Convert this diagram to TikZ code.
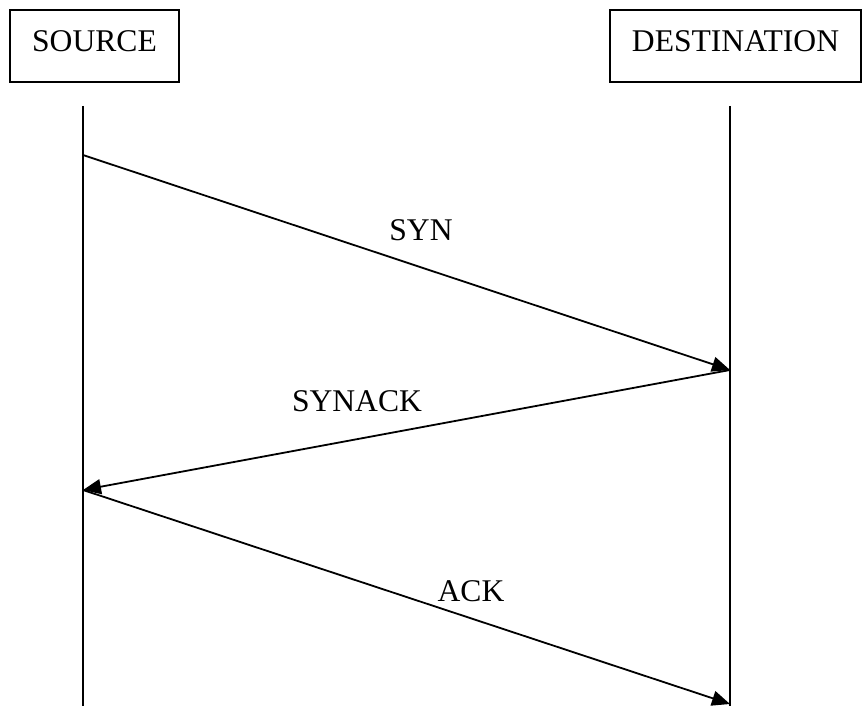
\documentclass[tikz,border=0pt]{standalone}
\usepackage{fontspec}
\setmainfont{Liberation Serif}
\usetikzlibrary{arrows.meta}

\begin{document}
\begin{tikzpicture}[x=0.5pt, y=-0.5pt, >={Triangle[length=9pt, width=7.5pt]},
  font=\fontsize{15.8}{19}\selectfont, line width=1pt,
  host/.style={draw, inner sep=0pt, text height=21pt, text depth=15pt},
  msg/.style={->, line width=0.9pt},
  lbl/.style={anchor=base, inner sep=0pt}]

\useasboundingbox (0,0) rectangle (863,706);

% the two hosts
\node[host, minimum width=84.5pt] (src) at (94.5,46) {SOURCE};
\node[host, minimum width=125.5pt] (dst) at (735.5,46) {DESTINATION};

% lifelines
\coordinate (srctop) at (83,106);
\coordinate (srcbot) at (83,706);
\coordinate (dsttop) at (730,106);
\coordinate (dstbot) at (730,706);
\draw (srctop) -- (srcbot);
\draw (dsttop) -- (dstbot);

% handshake points on the lifelines
\coordinate (s1) at (83,155);
\coordinate (d1) at (730,370);
\coordinate (s2) at (83,490);
\coordinate (d2) at (730,704);

\draw[msg] (s1) -- (d1);
\draw[msg] (d1) -- (s2);
\draw[msg] (s2) -- (d2);

\node[lbl] (syn) at (421,241) {SYN};
\node[lbl] (synack) at (357,411) {SYNACK};
\node[lbl] (ack) at (471,601) {ACK};

\end{tikzpicture}
\end{document}
